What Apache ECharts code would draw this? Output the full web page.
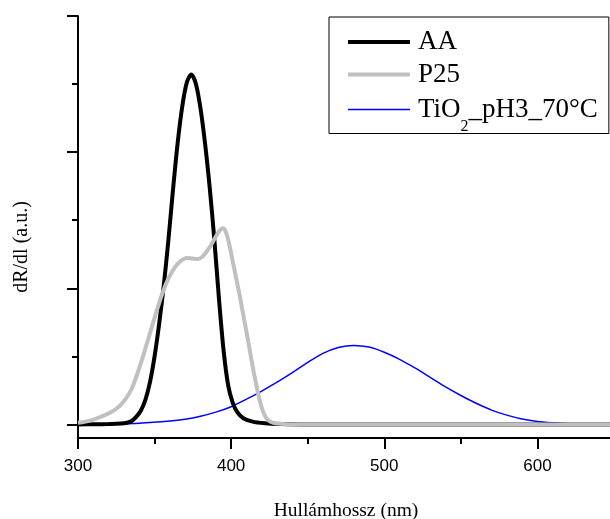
<!DOCTYPE html>
<html>
<head>
<meta charset="utf-8">
<script src="https://cdn.jsdelivr.net/npm/echarts@6/dist/echarts.min.js"></script>
<style>
  html, body { margin: 0; padding: 0; background: #fff; }
  #chart { width: 610px; height: 519px; }
</style>
</head>
<body>
<div id="chart"></div>
<script>
// Derivative reflectance spectra (dR/dl) against wavelength
const seriesNames = ['AA', 'P25', 'TiO2_pH3_70°C'];
const seriesColors = ['#000000', '#c0c0c0', '#0000ff'];
const seriesWidths = [4, 4, 1.5];

const wavelengthsAA = [300, 310, 320, 328, 332, 335, 338, 341, 344, 347, 350, 353, 356, 359, 362, 365, 368, 371, 374, 377, 380, 383, 386, 389, 392, 395, 398, 401, 404, 408, 414, 422, 432, 445, 650];
const valuesAA = [0, 0.001, 0.003, 0.006, 0.012, 0.025, 0.055, 0.10, 0.18, 0.31, 0.50, 0.74, 1.02, 1.35, 1.72, 2.06, 2.33, 2.51, 2.57, 2.50, 2.32, 2.06, 1.74, 1.36, 0.93, 0.55, 0.29, 0.16, 0.09, 0.045, 0.02, 0.008, 0.002, 0, 0];

const wavelengthsP25 = [300, 308, 316, 322, 327, 331, 335, 339, 343, 347, 351, 355, 359, 363, 367, 371, 375, 378, 381, 384, 387, 390, 393, 395, 397, 399, 401, 403, 405, 407, 409, 411, 413, 415, 417, 419, 421, 423, 426, 430, 436, 442, 650];
const valuesP25 = [0.012, 0.028, 0.061, 0.093, 0.134, 0.185, 0.26, 0.38, 0.52, 0.67, 0.82, 0.96, 1.07, 1.15, 1.20, 1.223, 1.218, 1.215, 1.23, 1.27, 1.32, 1.38, 1.43, 1.44, 1.40, 1.31, 1.20, 1.09, 0.98, 0.86, 0.74, 0.62, 0.49, 0.37, 0.26, 0.16, 0.09, 0.045, 0.018, 0.006, 0.001, 0, 0];

const wavelengthsTiO2 = [300, 320, 340, 360, 370, 380, 390, 400, 410, 420, 430, 440, 450, 460, 470, 480, 490, 500, 510, 520, 530, 540, 550, 560, 570, 580, 590, 600, 610, 620, 635, 650];
const valuesTiO2 = [0, 0.003, 0.008, 0.024, 0.038, 0.06, 0.09, 0.13, 0.185, 0.245, 0.31, 0.38, 0.455, 0.522, 0.565, 0.58, 0.568, 0.53, 0.478, 0.415, 0.345, 0.275, 0.212, 0.155, 0.105, 0.068, 0.04, 0.022, 0.012, 0.005, 0.001, 0];

const xTickValues = [300, 400, 500, 600];
const yMajorTicks = [0, 1, 2, 3];
const yMinorTicks = [0.5, 1.5, 2.5];

function pairs(xs, ys) {
  return xs.map((x, i) => [x, ys[i]]);
}

const serif = '"Liberation Serif", "Times New Roman", serif';
const sans = '"Liberation Sans", Arial, sans-serif';

function lineSeries(idx, xs, ys) {
  return {
    name: seriesNames[idx],
    type: 'line',
    data: pairs(xs, ys),
    showSymbol: false,
    symbol: 'none',
    smooth: 0.3,
    lineStyle: { color: seriesColors[idx], width: seriesWidths[idx] },
    itemStyle: { color: seriesColors[idx] }
  };
}

const chart = echarts.init(document.getElementById('chart'), null, { renderer: 'canvas' });

chart.setOption({
  animation: false,
  backgroundColor: '#ffffff',
  grid: { left: 78, top: 16, bottom: 81, right: -4, containLabel: false, outerBoundsMode: 'none' },
  legend: {
    data: seriesNames.map((name, i) => ({
      name: name,
      lineStyle: { color: seriesColors[i], width: seriesWidths[i] }
    })),
    orient: 'vertical',
    left: 329,
    top: 17,
    itemWidth: 62,
    itemHeight: 14,
    itemGap: -12.5,
    padding: [2.5, 11, -1, 17],
    borderColor: '#000',
    borderWidth: 1,
    backgroundColor: '#fff',
    selectedMode: false,
    itemStyle: { opacity: 0, color: 'rgba(0,0,0,0)', borderWidth: 0 },
    formatter: function (name) {
      if (name === 'TiO2_pH3_70°C') {
        return '{n|TiO}{s|2}{n|_pH3_70°C}';
      }
      return '{n|' + name + '}';
    },
    textStyle: {
      padding: [0, 0, 0, 3],
      color: '#000',
      fontFamily: serif,
      rich: {
        n: { fontFamily: serif, fontSize: 27, lineHeight: 30, padding: [9, 0, 9, 0], color: '#000' },
        s: { fontFamily: serif, fontSize: 16, lineHeight: 14, padding: [34, 0, 0, 0], color: '#000' }
      }
    }
  },
  xAxis: {
    type: 'value',
    min: 300,
    max: 650,
    interval: 100,
    name: 'Hullámhossz (nm)',
    nameLocation: 'middle',
    nameGap: 63,
    nameTextStyle: { fontFamily: serif, fontSize: 19.5, color: '#000' },
    axisLine: { show: true, onZero: false, lineStyle: { color: '#000', width: 2 } },
    axisTick: { show: true, length: 11, lineStyle: { color: '#000', width: 2 } },
    minorTick: { show: true, splitNumber: 2, length: 6, lineStyle: { color: '#000', width: 2 } },
    axisLabel: {
      margin: 20,
      fontFamily: sans,
      fontSize: 17,
      color: '#000',
      customValues: xTickValues,
      formatter: v => String(v)
    },
    splitLine: { show: false },
    minorSplitLine: { show: false }
  },
  yAxis: [
    {
      type: 'value',
      position: 'left',
      min: -0.1,
      max: 3,
      name: 'dR/dl (a.u.)',
      nameLocation: 'middle',
      nameGap: 46,
      nameTextStyle: { fontFamily: serif, fontSize: 20, color: '#000', padding: [0, 40, 0, 0] },
      axisLine: { show: true, onZero: false, lineStyle: { color: '#000', width: 2 } },
      axisTick: { show: true, length: 11, customValues: yMajorTicks, lineStyle: { color: '#000', width: 2 } },
      axisLabel: { show: false },
      splitLine: { show: false }
    },
    {
      type: 'value',
      position: 'left',
      min: -0.1,
      max: 3,
      axisLine: { show: false, onZero: false },
      axisTick: { show: true, length: 6, customValues: yMinorTicks, lineStyle: { color: '#000', width: 2 } },
      axisLabel: { show: false },
      splitLine: { show: false }
    }
  ],
  // blue drawn first, grey last so it sits on top along the baseline
  series: [
    lineSeries(2, wavelengthsTiO2, valuesTiO2),
    lineSeries(0, wavelengthsAA, valuesAA),
    lineSeries(1, wavelengthsP25, valuesP25)
  ]
});
</script>
</body>
</html>
